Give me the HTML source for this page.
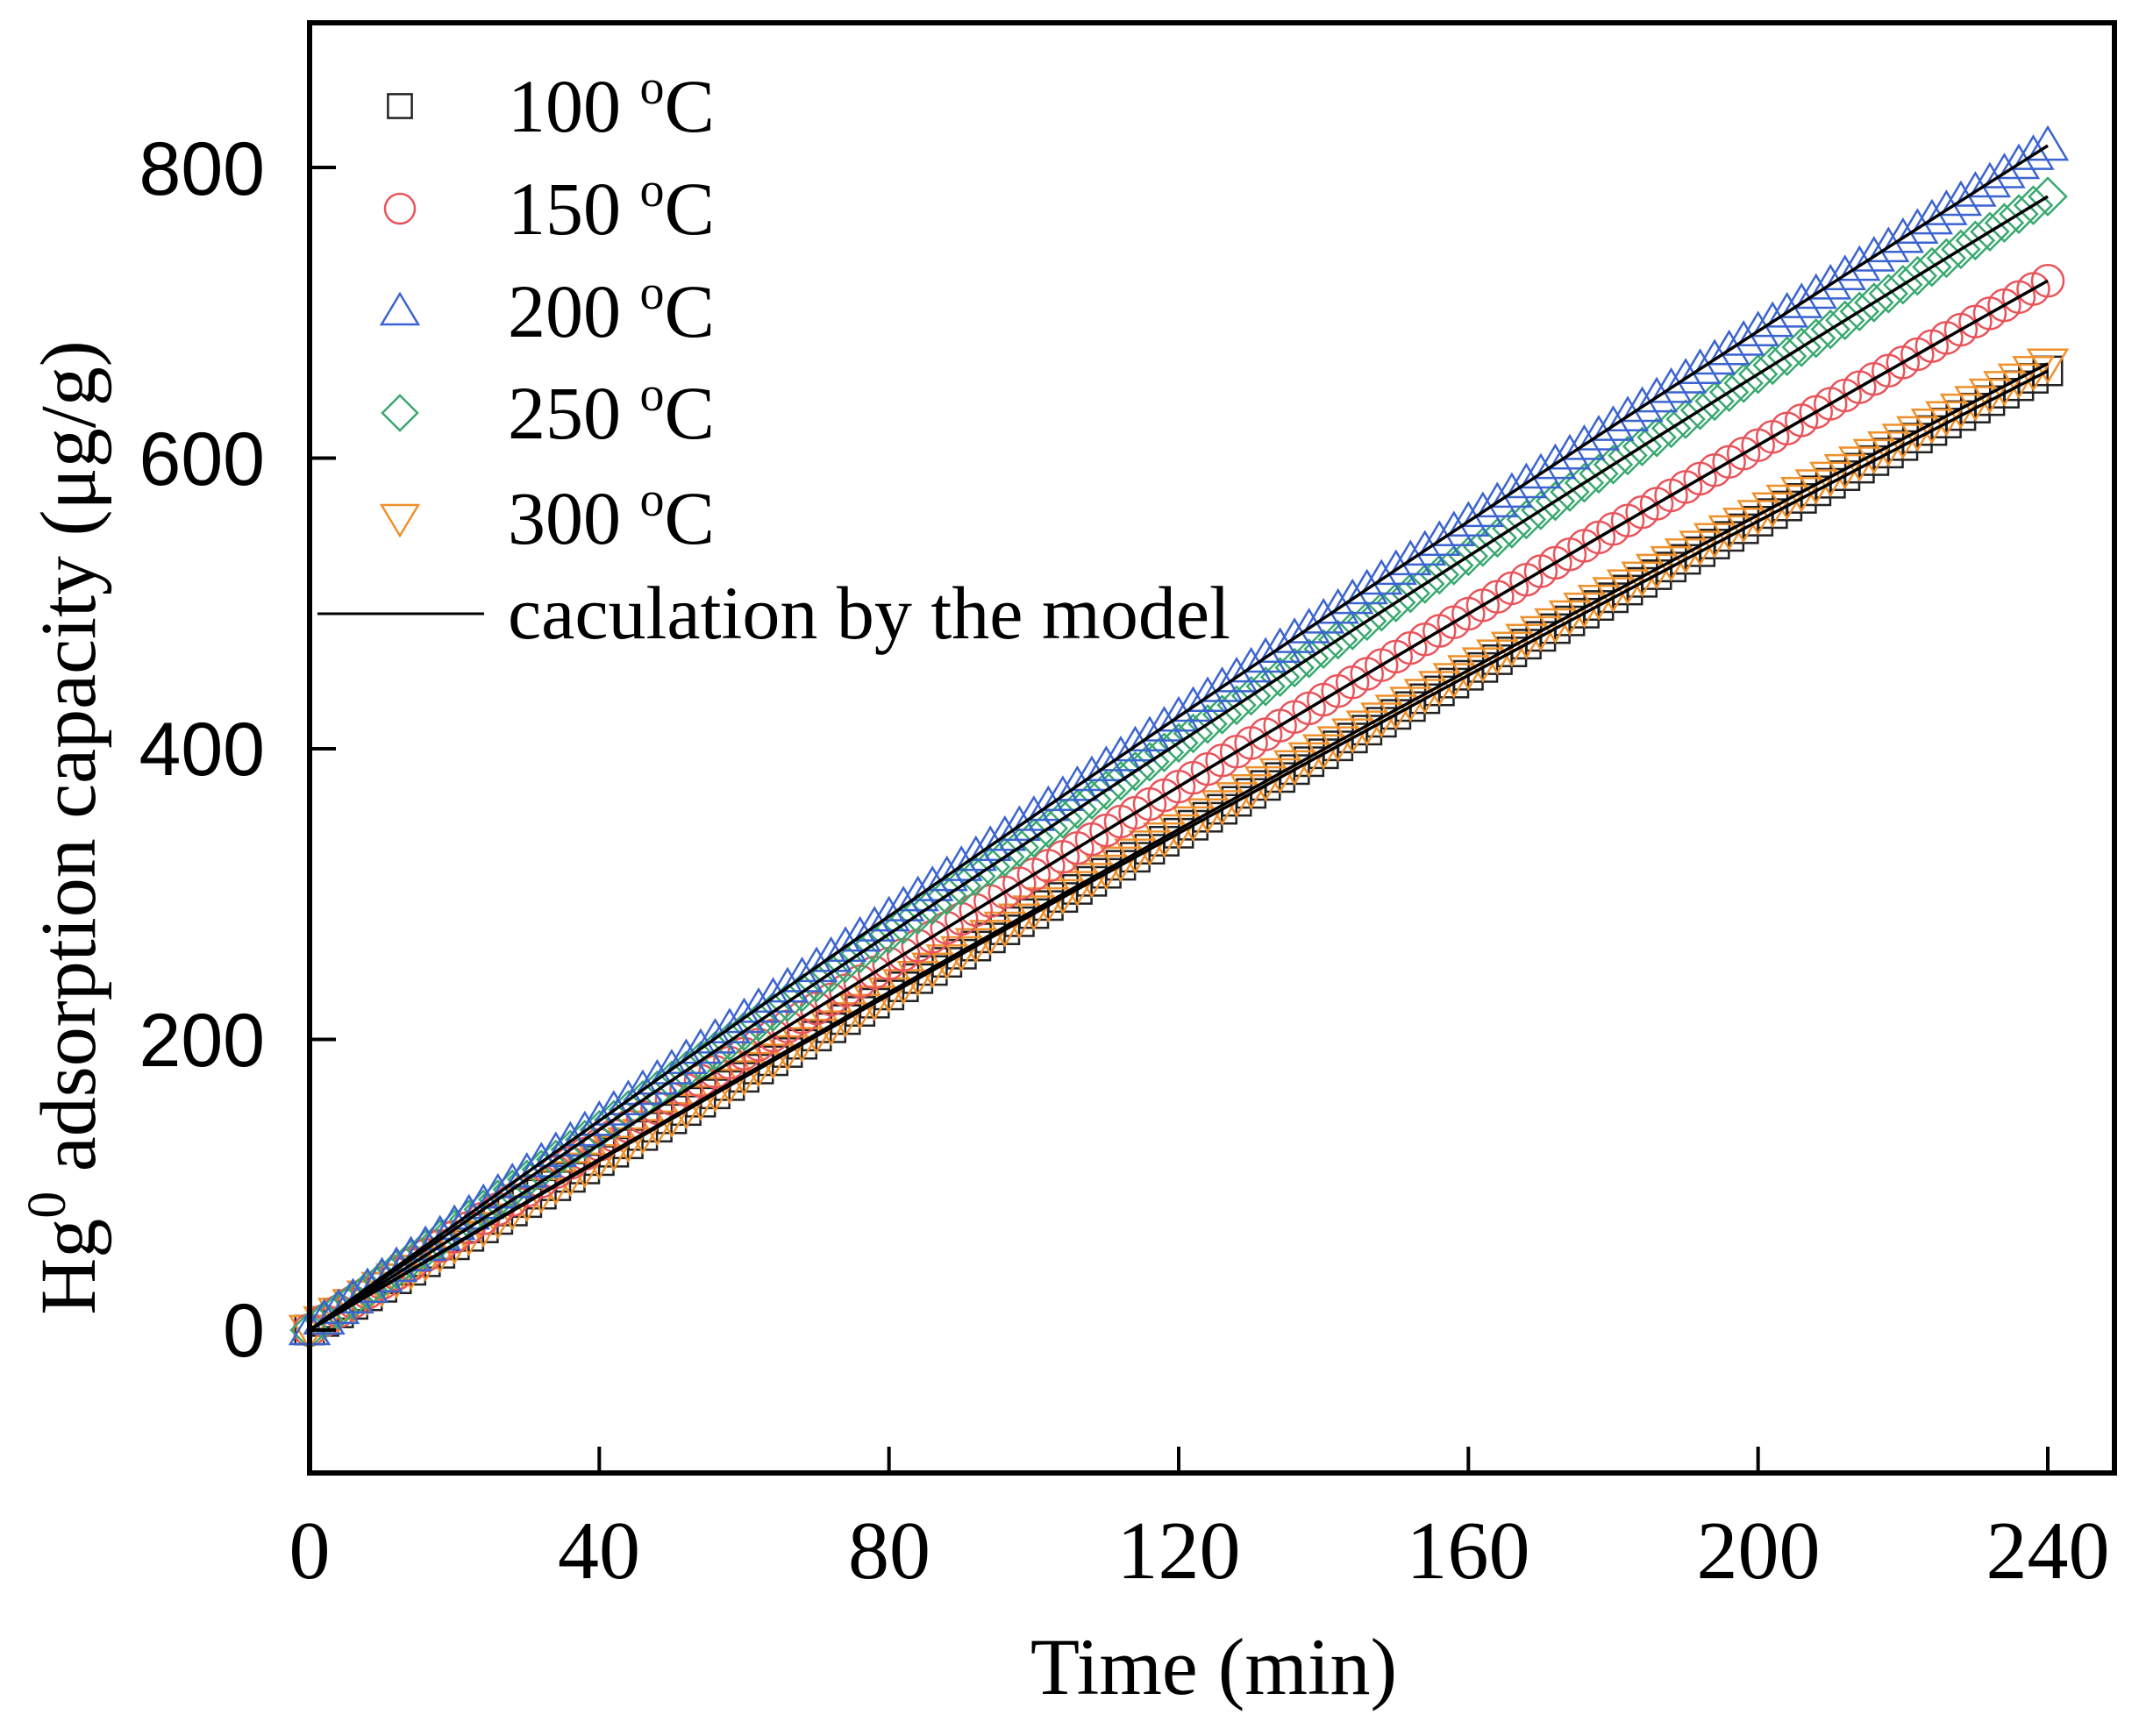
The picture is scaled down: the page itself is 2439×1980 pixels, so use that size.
<!DOCTYPE html>
<html><head><meta charset="utf-8"><style>
html,body{margin:0;padding:0;background:#fff;}
svg{display:block;}
</style></head><body>
<svg id="s" width="2439" height="1980" xmlns="http://www.w3.org/2000/svg">
<rect width="2439" height="1980" fill="#fff"/>
<g id="data"></g>
<rect x="353" y="26" width="2058" height="1654" fill="none" stroke="#000" stroke-width="6"/>
<g id="ticks" stroke="#000" stroke-width="4"></g>
<g font-family="Liberation Sans, sans-serif" font-size="86" text-anchor="end" fill="#000">
<text x="302" y="222">800</text>
<text x="302" y="553">600</text>
<text x="302" y="884">400</text>
<text x="302" y="1216">200</text>
<text x="302" y="1547">0</text>
</g>
<g font-family="Liberation Serif, serif" font-size="94" text-anchor="middle" fill="#000">
<text x="353" y="1800">0</text>
<text x="683" y="1800">40</text>
<text x="1014" y="1800">80</text>
<text x="1344" y="1800">120</text>
<text x="1674" y="1800">160</text>
<text x="2005" y="1800">200</text>
<text x="2335" y="1800">240</text>
<text x="1384" y="1932" font-size="92">Time (min)</text>
<text transform="translate(108,944) rotate(-90)" font-size="90">Hg<tspan dy="-34" font-size="62">0</tspan><tspan dy="34"> adsorption capacity (μg/g)</tspan></text>
</g>
<g id="legend" font-family="Liberation Serif, serif" font-size="86" fill="#000">
<text x="579" y="150">100 <tspan dy="-32" font-size="56">o</tspan><tspan dy="32">C</tspan></text>
<text x="579" y="267">150 <tspan dy="-32" font-size="56">o</tspan><tspan dy="32">C</tspan></text>
<text x="579" y="384">200 <tspan dy="-32" font-size="56">o</tspan><tspan dy="32">C</tspan></text>
<text x="579" y="500">250 <tspan dy="-32" font-size="56">o</tspan><tspan dy="32">C</tspan></text>
<text x="579" y="620">300 <tspan dy="-32" font-size="56">o</tspan><tspan dy="32">C</tspan></text>
<text x="579" y="728">caculation by the model</text>
<line x1="362" y1="700" x2="552" y2="700" stroke="#000" stroke-width="3"/>
</g>
</svg>
<script>
var NS="http://www.w3.org/2000/svg";
function X(t){return 353+t*(2335-353)/240;}
function Y(v){return 1517-v*(1517-191)/800;}
var t=document.getElementById('ticks'),d=document.getElementById('data'),lg=document.getElementById('legend');
function el(n,a,p){var e=document.createElementNS(NS,n);for(var k in a)e.setAttribute(k,a[k]);p.appendChild(e);return e;}
for(var i=1;i<=6;i++){var x=X(i*40);el('line',{x1:x,y1:1680,x2:x,y2:1650},t);}
[0,200,400,600,800].forEach(function(v){el('line',{x1:353,y1:Y(v),x2:383,y2:Y(v)},t);});
function marker(type,x,y,c,p,r,sq){var a={fill:'none',stroke:c,'stroke-width':2.5};
 if(type=='s'){r=r*sq;a.x=x-r;a.y=y-r;a.width=2*r;a.height=2*r;el('rect',a,p);}
 else if(type=='c'){a.cx=x;a.cy=y;a.r=r;el('circle',a,p);}
 else if(type=='t'){a.points=[x,y-r-3,x+r+4,y+r-2,x-r-4,y+r-2].join(' ');el('polygon',a,p);}
 else if(type=='d'){a.points=[x,y-r-3,x+r+3,y,x,y+r+3,x-r-3,y].join(' ');el('polygon',a,p);}
 else {a.points=[x-r-4,y-r+2,x+r+4,y-r+2,x,y+r+3].join(' ');el('polygon',a,p);}}
var S=[['s','#222',660],['v','#f0902a',665],['c','#e8545a',722],['d','#3aa870',780],['t','#3b64d0',815]];
function q(E,tt){var u=tt/240;return E*u*(1+0.072*(1-u));}
S.forEach(function(s){for(var tt=0;tt<=240;tt+=2){marker(s[0],X(tt),Y(q(s[2],tt)),s[1],d,18,0.9);}});
S.forEach(function(s){var pts=[];for(var tt=0;tt<=240;tt+=4)pts.push(X(tt)+','+Y(q(s[2],tt)));el('polyline',{points:pts.join(' '),fill:'none',stroke:'#000','stroke-width':3.5},d);});
[['s','#222',121],['c','#e8545a',238],['t','#3b64d0',355],['d','#3aa870',471],['v','#f0902a',591]].forEach(function(s){marker(s[0],456,s[2],s[1],lg,17,0.8);});
</script>
</body></html>
